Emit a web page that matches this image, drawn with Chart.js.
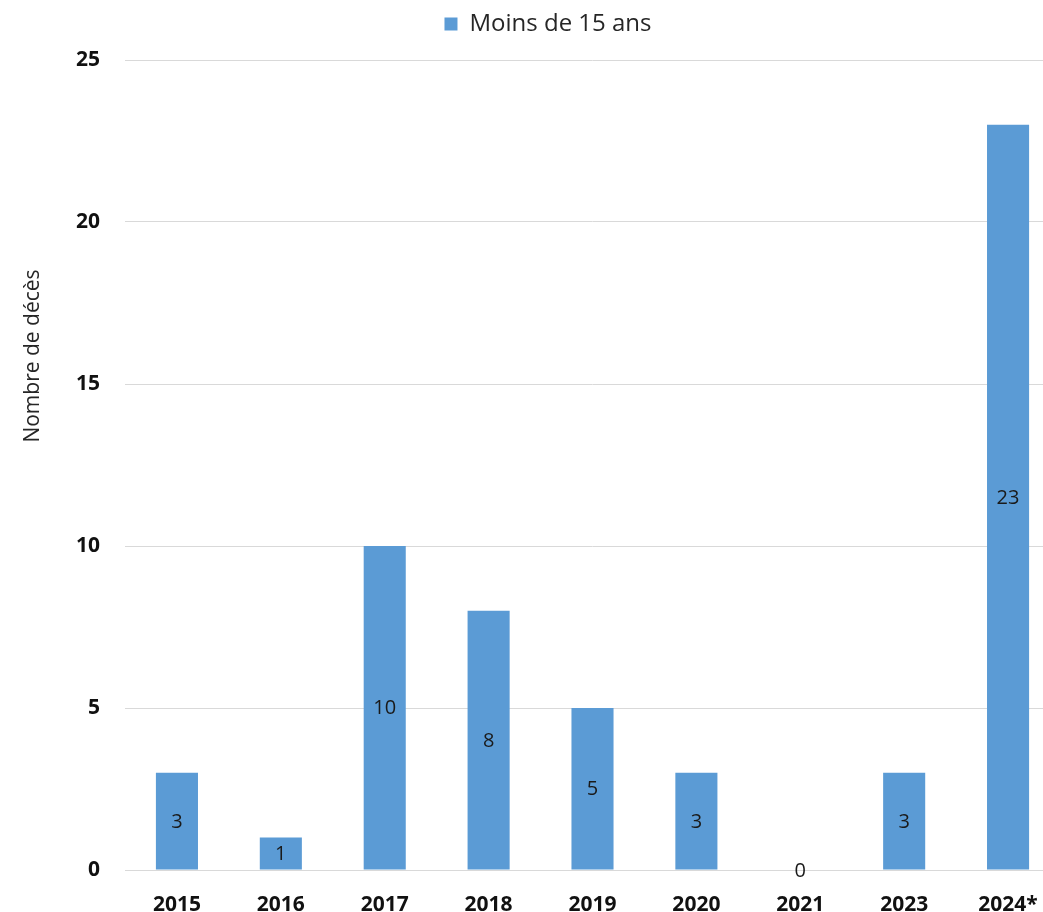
<!DOCTYPE html>
<html lang="fr">
<head>
<meta charset="utf-8">
<title>Décès – moins de 15 ans</title>
<script src="https://cdn.jsdelivr.net/npm/chart.js@4.4.1/dist/chart.umd.min.js"></script>
<style>
  html, body { margin: 0; padding: 0; background: #fff; overflow: hidden; }
  #wrap { width: 1096px; height: 912px; }
</style>
</head>
<body>
<div id="wrap"><canvas id="c" width="1096" height="912"></canvas></div>
<script>
// Données
const years = ['2015', '2016', '2017', '2018', '2019', '2020', '2021', '2023', '2024*'];
const deaths = [3, 1, 10, 8, 5, 3, 0, 3, 23];
const yTicks = [0, 5, 10, 15, 20, 25];
const seriesLabel = 'Moins de 15 ans';
const axisTitle = 'Nombre de décès';

const FONT = '"Open Sans", "Liberation Sans", sans-serif';
const BLUE = '#5B9BD5';

// Valeurs écrites au milieu de chaque barre
const barValues = {
  id: 'barValues',
  afterDatasetsDraw(chart) {
    const ctx = chart.ctx;
    const meta = chart.getDatasetMeta(0);
    ctx.save();
    ctx.font = '20px ' + FONT;
    ctx.fillStyle = '#1a1a1a';
    ctx.textAlign = 'center';
    ctx.textBaseline = 'middle';
    meta.data.forEach((bar, i) => {
      const v = chart.data.datasets[0].data[i];
      const y = (bar.y + bar.base) / 2;
      ctx.fillText(String(v), bar.x, y + 1);
    });
    ctx.restore();
  }
};

// Titre vertical de l'axe des ordonnées
const yTitle = {
  id: 'yTitle',
  afterDraw(chart) {
    const ctx = chart.ctx;
    ctx.save();
    ctx.translate(33, 356);
    ctx.rotate(-Math.PI / 2);
    ctx.font = '21px ' + FONT;
    ctx.fillStyle = '#262626';
    ctx.textAlign = 'center';
    ctx.textBaseline = 'middle';
    ctx.fillText(axisTitle, 0, 0);
    ctx.restore();
  }
};

// Espace supplémentaire sous la légende
const legendGap = {
  id: 'legendGap',
  beforeLayout(chart) {
    const lg = chart.legend;
    if (lg && !lg._gapPatched) {
      const fit = lg.fit;
      lg.fit = function () {
        fit.call(this);
        this.height += 14;
      };
      lg._gapPatched = true;
    }
  }
};

new Chart(document.getElementById('c'), {
  type: 'bar',
  data: {
    labels: years,
    datasets: [{
      label: seriesLabel,
      data: deaths,
      backgroundColor: BLUE,
      borderWidth: 0,
      categoryPercentage: 1,
      barPercentage: 0.405
    }]
  },
  options: {
    responsive: false,
    animation: false,
    layout: { padding: { left: 36, right: 36, top: 2, bottom: 0 } },
    plugins: {
      legend: {
        position: 'top',
        labels: {
          font: { family: FONT, size: 24 },
          color: '#262626',
          boxWidth: 13,
          boxHeight: 13,
          padding: 10
        }
      },
      tooltip: { enabled: false }
    },
    scales: {
      x: {
        grid: { display: false, drawTicks: false },
        border: { display: true, color: '#d9d9d9', width: 1 },
        ticks: {
          font: { family: FONT, size: 21, weight: 'bold' },
          color: '#111',
          padding: 22
        },
        afterFit(scale) { scale.height = 42; }
      },
      y: {
        min: 0,
        max: 25,
        afterBuildTicks(scale) { scale.ticks = yTicks.map(v => ({ value: v })); },
        grid: { color: '#d9d9d9', lineWidth: 1, drawTicks: false },
        border: { display: false },
        ticks: {
          font: { family: FONT, size: 21, weight: 'bold' },
          color: '#111',
          padding: 25
        },
        afterFit(scale) { scale.width = 89; }
      }
    }
  },
  plugins: [barValues, yTitle, legendGap]
});
</script>
</body>
</html>
